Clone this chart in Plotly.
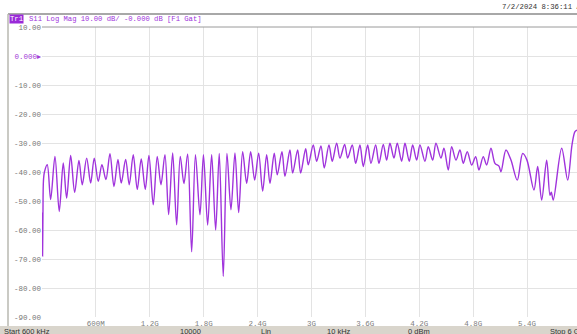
import plotly.graph_objects as go

# Frequency (MHz) and S11 (dB)
freq_mhz = [0.6, 3.3, 6.7, 11.1, 16.7, 27.8, 59.0, 96.8, 144.7, 192.6, 237.1, 275.0,
            319.5, 364.0, 411.9, 448.6, 497.6, 542.1, 582.2, 626.7, 667.9, 712.4,
            757.0, 801.5, 846.0, 882.8, 931.7, 971.8, 1016.4, 1060.9, 1105.4, 1149.9,
            1191.1, 1239.0, 1283.5, 1324.7, 1369.2, 1410.4, 1455.0, 1499.5, 1539.6,
            1580.7, 1621.9, 1666.5, 1708.8, 1758.9, 1797.8, 1844.6, 1889.1, 1933.6,
            1973.7, 2018.2, 2059.4, 2103.9, 2148.5, 2189.7, 2234.2, 2278.7, 2323.3,
            2367.8, 2412.3, 2456.8, 2501.4, 2538.1, 2586.0, 2619.4, 2671.7, 2705.1,
            2760.7, 2790.8, 2846.5, 2879.9, 2935.5, 2964.5, 3020.1, 3058.0, 3105.8,
            3142.6, 3194.9, 3231.6, 3280.6, 3317.3, 3369.7, 3403.1, 3454.3, 3492.1,
            3540.0, 3576.7, 3625.7, 3662.4, 3714.8, 3751.5, 3799.4, 3837.2, 3873.9,
            3918.5, 3955.2, 4004.2, 4040.9, 4088.8, 4126.6, 4171.2, 4207.9, 4263.6,
            4300.3, 4349.3, 4386.0, 4441.7, 4475.1, 4522.9, 4560.8, 4608.6, 4653.2,
            4689.9, 4734.4, 4783.4, 4827.9, 4864.7, 4912.5, 4950.4, 4998.3, 5042.8,
            5087.3, 5109.6, 5165.2, 5220.9, 5291.0, 5351.2, 5399.0, 5476.9, 5518.1,
            5562.7, 5618.3, 5655.1, 5669.5, 5691.8, 5785.3, 5852.1, 5900.0, 5933.4,
            5960.0, 6000.0]
s11_db = [-54.0, -60.0, -69.0, -55.0, -43.0, -40.0, -37.5, -49.5, -34.6, -53.6, -36.9, -49.0,
          -34.3, -47.0, -36.0, -44.4, -35.2, -43.8, -35.2, -43.2, -37.5, -42.6,
          -33.7, -45.0, -35.7, -43.8, -35.7, -44.4, -34.0, -46.0, -35.5, -46.0,
          -34.3, -51.3, -34.6, -44.4, -34.0, -54.7, -33.4, -58.2, -34.6,
          -44.0, -33.8, -67.5, -34.0, -54.8, -34.0, -58.3, -34.0, -60.0,
          -33.6, -76.0, -33.6, -53.0, -33.4, -54.0, -33.0, -43.9, -33.0,
          -42.8, -33.5, -46.6, -34.0, -43.9, -33.5, -41.0, -33.0, -41.5,
          -32.4, -40.4, -32.4, -40.4, -32.0, -37.5, -30.7, -36.3, -31.0,
          -38.6, -30.7, -36.3, -30.1, -35.2, -30.5, -35.2, -30.7, -37.0,
          -30.7, -38.1, -30.7, -37.0, -30.7, -37.0, -30.5, -35.9, -30.1,
          -35.2, -30.1, -36.3, -30.1, -36.3, -30.7, -35.9, -30.7, -36.3,
          -31.3, -35.9, -30.1, -35.2, -31.8, -39.3, -31.3, -35.9, -32.4,
          -37.0, -33.0, -37.6, -34.7, -39.3, -34.7, -37.6, -31.8, -37.0,
          -38.0, -39.9, -32.4, -35.9, -42.8, -33.6, -35.9, -46.2, -38.1,
          -49.7, -35.9, -48.0, -47.0, -49.7, -31.8, -42.8, -30.7, -26.1,
          -25.5, -24.5]

x_tickvals = [600, 1200, 1800, 2400, 3000, 3600, 4200, 4800, 5400]
x_ticktext = ["600M", "1.2G", "1.8G", "2.4G", "3G", "3.6G", "4.2G", "4.8G", "5.4G"]
y_tickvals = [10, 0, -10, -20, -30, -40, -50, -60, -70, -80, -90]
y_ticktext = ["10.00", '<span style="color:#a23bd6">0.000\u25b8</span>', "-10.00", "-20.00",
              "-30.00", "-40.00", "-50.00", "-60.00", "-70.00", "-80.00", "-90.00"]

status_labels = ["Start 600 kHz", "10000", "Lin", "10 kHz", "0 dBm", "Stop 6 GHz"]
status_px = [2, 178, 259, 325, 406, 548]

PURPLE = "#a033dc"
W, H = 577, 334
L, R, T, B = 42, 0, 27, 17
PW, PH = W - L - R, H - T - B

def px(x):
    return (x - L) / PW

def py(y):
    return (H - B - y) / PH

fig = go.Figure()
fig.add_trace(go.Scatter(x=freq_mhz, y=s11_db, mode="lines",
                         line=dict(color=PURPLE, width=1.4, shape="spline", smoothing=0.9),
                         hoverinfo="skip", showlegend=False))

mono = "Liberation Mono"
fig.update_layout(
    width=W, height=H,
    margin=dict(l=L, r=R, t=T, b=B, autoexpand=False),
    paper_bgcolor="white", plot_bgcolor="white",
    showlegend=False,
    xaxis=dict(range=[0.6, 5956], tickvals=x_tickvals, ticktext=x_ticktext,
               showgrid=True, gridcolor="#e3e3e3", gridwidth=1, zeroline=False,
               showline=False, ticks="", tickfont=dict(family=mono, size=7.5, color="#808080"),
               fixedrange=True, automargin=False),
    yaxis=dict(range=[-90, 10], tickvals=y_tickvals, ticktext=y_ticktext,
               showgrid=True, gridcolor="#e3e3e3", gridwidth=1, zeroline=False,
               showline=False, ticks="", tickfont=dict(family=mono, size=7.5, color="#777777"),
               fixedrange=True, automargin=False),
)

shapes = [
    dict(type="line", xref="paper", yref="paper", x0=px(8), x1=px(W + 5), y0=py(14), y1=py(14),
         line=dict(color="#a8a8a8", width=2)),
    dict(type="line", xref="paper", yref="paper", x0=px(8), x1=px(8), y0=py(14), y1=py(326),
         line=dict(color="#b8b8b0", width=1.5)),
    dict(type="line", xref="paper", yref="paper", x0=0, x1=1, y0=1, y1=1,
         line=dict(color="#9a9a9a", width=1)),
    dict(type="rect", xref="paper", yref="paper", x0=px(0), x1=px(W + 5), y0=py(326), y1=py(H + 5),
         fillcolor="#d9d5cc", line=dict(width=0), layer="above"),
]
fig.update_layout(shapes=shapes)

annotations = [
    dict(text="Tr1", x=px(9), y=py(19), xref="paper", yref="paper", xanchor="left", yanchor="middle",
         showarrow=False, font=dict(family=mono, size=7.2, color="white"), bgcolor="#9a2ad8", borderpad=0),
    dict(text="S11 Log Mag 10.00 dB/ -0.000 dB [F1 Gat]", x=px(27), y=py(19), xref="paper", yref="paper",
         xanchor="left", yanchor="middle", showarrow=False, font=dict(family=mono, size=7.2, color=PURPLE)),
    dict(text="7/2/2024 8:36:11 AM", x=px(500), y=py(7), xref="paper", yref="paper",
         xanchor="left", yanchor="middle", showarrow=False, font=dict(family=mono, size=7.3, color="#333333")),
]
for lab, xp in zip(status_labels, status_px):
    annotations.append(dict(text=lab, x=px(xp), y=py(331.5), xref="paper", yref="paper",
                            xanchor="left", yanchor="middle", showarrow=False,
                            font=dict(family="Liberation Sans", size=7.5, color="#333333")))
fig.update_layout(annotations=annotations)

fig.write_html("out.html", config={"displayModeBar": False},
               post_script="document.body.style.margin='0';document.body.style.padding='0';"
                           "document.body.style.overflow='hidden';")
